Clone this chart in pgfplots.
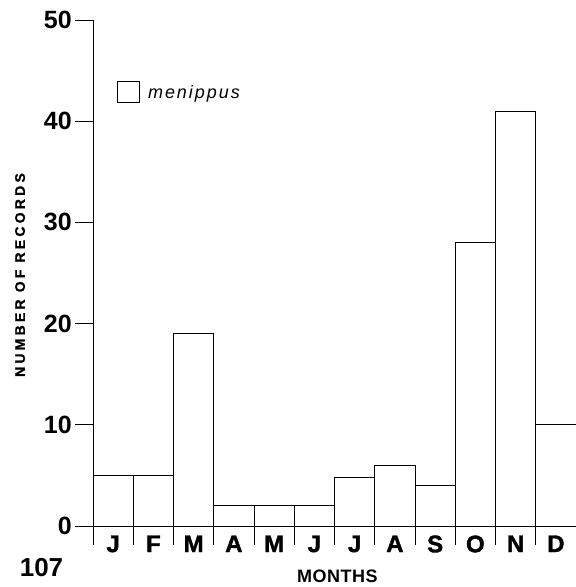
\documentclass[border=0pt]{standalone}
\usepackage{fontspec}
\setmainfont{Liberation Sans}
\usepackage{pgfplots}
\pgfplotsset{compat=1.18}
\begin{document}
\begin{tikzpicture}
\useasboundingbox (-93pt,-61pt) rectangle (483pt,526pt);
\begin{axis}[
  at={(0pt,0pt)}, anchor=south west,
  scale only axis, width=483pt, height=506pt,
  xmin=-0.5, xmax=11.5, ymin=0, ymax=50,
  axis x line*=bottom, axis y line*=left,
  ybar, bar width=1, bar shift=0pt,
  ytick={0,10,...,50},
  xtick={0,...,11},
  xticklabels={J,F,M,A,M,J,J,A,S,O,N,D},
  minor xtick={-0.5,0.5,...,11.5},
  tick align=outside,
  major tick length=18pt,
  minor tick length=19pt,
  major x tick style={draw=none},
  tick style={black, line width=0.9pt},
  axis line style={line width=0.9pt},
  /pgf/number format/assume math mode=true,
  yticklabel style={font=\fontsize{25}{25}\selectfont\bfseries, inner sep=1pt, xshift=-2pt},
  xticklabel style={font=\fontsize{24}{24}\selectfont\bfseries\addfontfeature{FakeBold=1.5}, yshift=12pt},
  ylabel={NUMBER OF RECORDS},
  ylabel style={at={(axis description cs:-0.151,0.496)}, anchor=center,
    font=\fontsize{14}{14}\selectfont\bfseries\addfontfeature{LetterSpace=23,FakeBold=1}},
  xlabel={MONTHS},
  xlabel style={at={(axis description cs:0.506,-0.0998)}, anchor=center,
    font=\fontsize{18}{18}\selectfont\bfseries\addfontfeature{LetterSpace=3}},
  legend style={draw=none, fill=none, at={(axis description cs:0.0497,0.879)}, anchor=north west,
    inner sep=0pt, font=\fontsize{18}{18}\selectfont\itshape\addfontfeature{LetterSpace=11}},
  legend image code/.code={\draw[line width=0.8pt, fill=white] (0pt,-10.5pt) rectangle (22pt,10.5pt); \path (28pt,0pt);},
  clip=false,
]
\addplot[draw=black, fill=white, line width=0.9pt] coordinates {
  (0,5) (1,5) (2,19) (3,2) (4,2) (5,2) (6,4.8) (7,6) (8,4) (9,28) (10,41) (11,10)};
\addlegendentry{menippus}
\end{axis}
\node[font=\fontsize{26}{26}\selectfont\bfseries] at (-51.5pt,-41.5pt) {107};
\end{tikzpicture}
\end{document}
